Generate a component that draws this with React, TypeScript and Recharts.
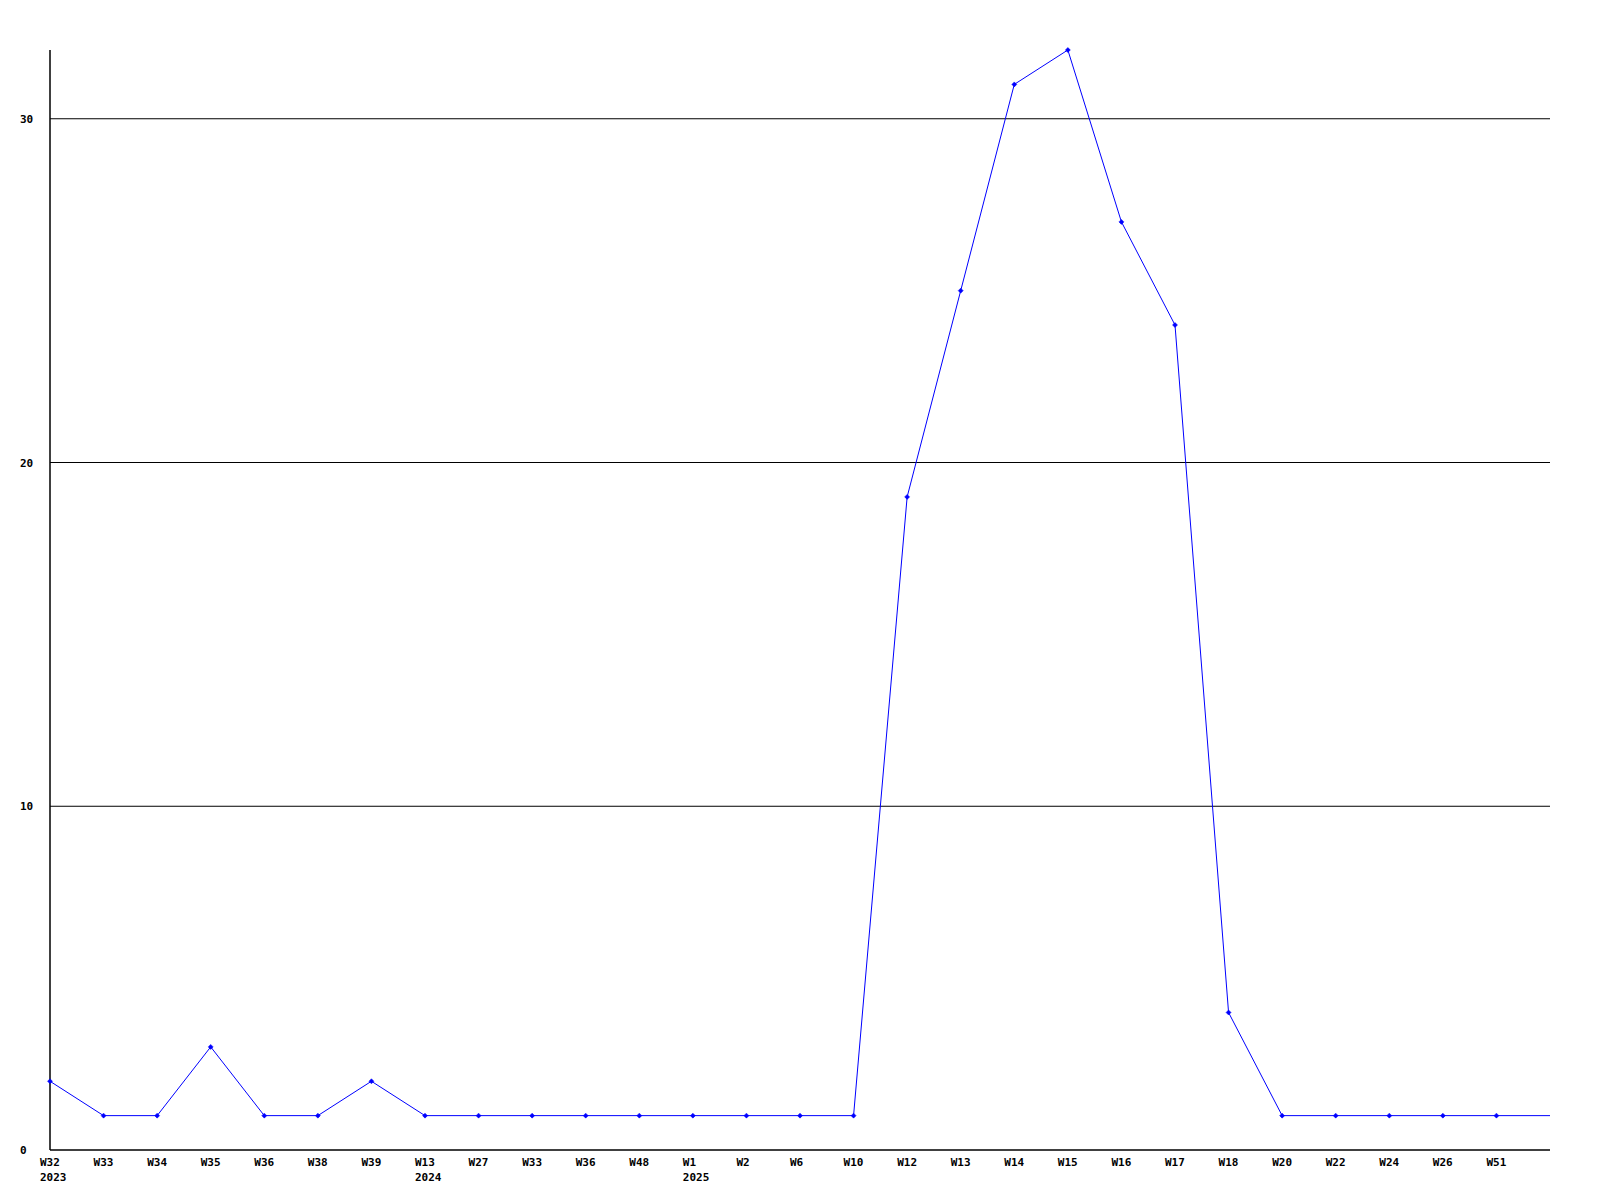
import { CartesianGrid, Line, LineChart, XAxis, YAxis } from "recharts";

const weeks = [
  "W32", "W33", "W34", "W35", "W36", "W38", "W39", "W13", "W27", "W33",
  "W36", "W48", "W1", "W2", "W6", "W10", "W12", "W13", "W14", "W15",
  "W16", "W17", "W18", "W20", "W22", "W24", "W26", "W51", "",
];
const years = [
  "2023", "", "", "", "", "", "", "2024", "", "", "", "", "2025", "", "",
  "", "", "", "", "", "", "", "", "", "", "", "", "", "",
];
const counts = [
  2, 1, 1, 3, 1, 1, 2, 1, 1, 1, 1, 1, 1, 1, 1, 1, 19, 25, 31, 32, 27, 24, 4,
  1, 1, 1, 1, 1, 1,
];
const yTicks = [0, 10, 20, 30];
const gridValues = [10, 20, 30];

const data = weeks.map((w, i) => ({ key: i, week: w, year: years[i], count: counts[i] }));

const FONT = "'DejaVu Sans Mono', monospace";

function WeekTick(props: any) {
  const { x, y, payload } = props;
  const row = data[payload.value];
  if (!row || !row.week) return null;
  const start = x - 10;
  return (
    <g>
      <text x={start} y={y + 16} fontFamily={FONT} fontWeight="bold" fontSize={11} fill="#000">
        {row.week}
      </text>
      {row.year && (
        <text x={start} y={y + 31} fontFamily={FONT} fontWeight="bold" fontSize={11} fill="#000">
          {row.year}
        </text>
      )}
    </g>
  );
}

function CountTick(props: any) {
  const { x, y, payload } = props;
  return (
    <text x={x - 30} y={y + 4} fontFamily={FONT} fontWeight="bold" fontSize={11} fill="#000">
      {payload.value}
    </text>
  );
}

function Marker(props: any) {
  const { cx, cy, index } = props;
  if (index === data.length - 1 || cx == null) return <g key={index} />;
  return (
    <path
      key={index}
      d={`M${cx} ${cy - 2.5} L${cx + 2.5} ${cy} L${cx} ${cy + 2.5} L${cx - 2.5} ${cy} Z`}
      fill="#0000ff"
      stroke="#0000ff"
      strokeWidth={0.5}
    />
  );
}

export default function App() {
  return (
    <div style={{ position: "absolute", left: 0, top: 0, width: 1600, height: 1200, background: "#fff" }}>
      <LineChart width={1600} height={1200} data={data} margin={{ top: 50, right: 50, left: 0, bottom: 0 }}>
        <CartesianGrid
          vertical={false}
          horizontalValues={gridValues}
          stroke="#000"
          strokeWidth={1}
        />
        <XAxis
          dataKey="key"
          type="category"
          interval={0}
          height={50}
          tick={<WeekTick />}
          tickLine={false}
          tickSize={0}
          tickMargin={0}
          axisLine={{ stroke: "#000", strokeWidth: 1.5 }}
        />
        <YAxis
          domain={[0, 32]}
          ticks={yTicks}
          width={50}
          tick={<CountTick />}
          tickLine={false}
          tickSize={0}
          tickMargin={0}
          axisLine={{ stroke: "#000", strokeWidth: 1.5 }}
        />
        <Line
          type="linear"
          dataKey="count"
          stroke="#0000ff"
          strokeWidth={1}
          dot={<Marker />}
          activeDot={false}
          isAnimationActive={false}
        />
      </LineChart>
    </div>
  );
}
